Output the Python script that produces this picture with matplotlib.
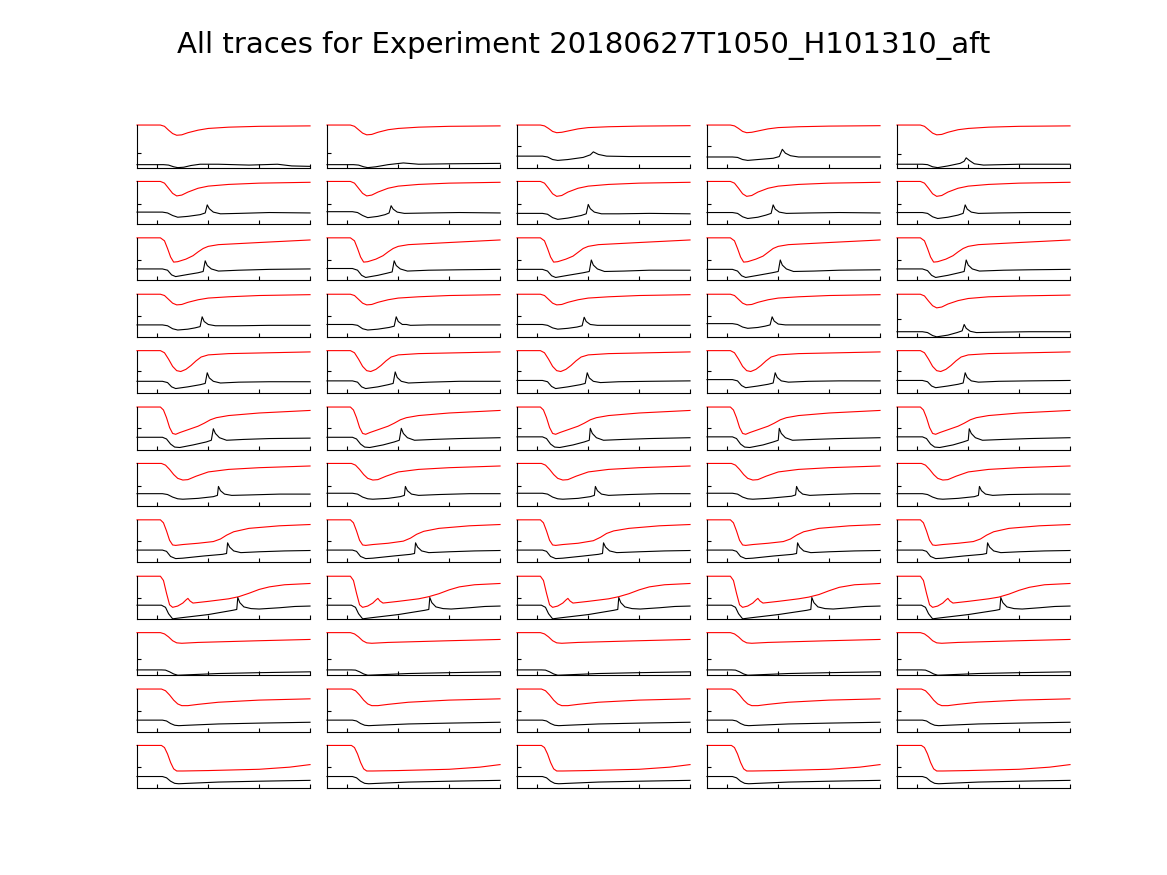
import matplotlib
matplotlib.use("Agg")
import matplotlib.pyplot as plt

title = "All traces for Experiment 20180627T1050_H101310_aft"
x_ticks = [0, 50, 100, 150]

# red trace: x vertices shared along a row, y per column (fraction of panel height)
red_x = [
    [-20, 3, 7, 11, 15, 19, 24, 30, 40, 50, 70, 100, 150],
    [-20, 3, 7, 11, 15, 19, 24, 30, 40, 50, 70, 100, 150],
    [-20, 3, 7, 10, 13, 16, 20, 28, 35, 40, 45, 50, 60, 100, 150],
    [-20, 3, 7, 11, 15, 19, 24, 30, 40, 50, 70, 100, 150],
    [-20, 3, 7, 11, 15, 19, 23, 28, 33, 38, 43, 50, 70, 110, 150],
    [-20, 3, 6, 9, 12, 15, 18, 22, 28, 34, 40, 46, 52, 58, 70, 100, 150],
    [-20, 4, 8, 12, 16, 20, 25, 30, 38, 50, 70, 100, 150],
    [-20, 3, 6, 9, 12, 15, 18, 25, 40, 55, 62, 68, 75, 90, 120, 150],
    [-20, 3, 6, 9, 12, 15, 20, 25, 28, 30, 32, 35, 50, 70, 80, 90, 100, 110, 125, 150],
    [-20, 3, 7, 11, 15, 19, 24, 40, 70, 100, 150],
    [-20, 4, 8, 12, 16, 20, 24, 30, 40, 60, 100, 150],
    [-20, 4, 7, 10, 13, 16, 19, 25, 50, 100, 130, 150],
]
red_y = [
    [[1, 1, .97, .88, .80, .76, .77, .82, .88, .92, .95, .97, .98],
     [1, 1, .97, .89, .81, .77, .78, .83, .89, .92, .95, .97, .98],
     [1, 1, .98, .92, .85, .82, .83, .86, .91, .94, .96, .975, .985],
     [1, 1, .98, .92, .85, .82, .83, .86, .91, .94, .96, .975, .985],
     [1, 1, .97, .89, .81, .77, .78, .83, .89, .92, .95, .97, .98]],
    [[1, 1, .96, .84, .72, .66, .68, .75, .84, .89, .93, .96, .98],
     [1, 1, .96, .84, .72, .66, .68, .75, .84, .89, .93, .96, .98],
     [1, 1, .96, .84, .71, .65, .67, .75, .84, .89, .93, .96, .98],
     [1, 1, .96, .84, .71, .65, .67, .75, .84, .89, .93, .96, .98],
     [1, 1, .96, .84, .71, .65, .67, .75, .84, .89, .93, .96, .98]],
    [[1, 1, .93, .75, .55, .43, .44, .50, .58, .67, .75, .80, .84, .89, .95],
     [1, 1, .93, .75, .55, .43, .44, .50, .58, .67, .75, .80, .84, .89, .95],
     [1, 1, .93, .75, .55, .43, .44, .50, .57, .66, .75, .80, .84, .89, .95],
     [1, 1, .93, .75, .55, .43, .44, .50, .57, .66, .75, .80, .84, .89, .95],
     [1, 1, .93, .75, .55, .43, .44, .50, .58, .67, .75, .80, .84, .89, .95]],
    [[1, 1, .97, .88, .79, .75, .76, .81, .87, .91, .94, .97, .99],
     [1, 1, .97, .88, .79, .75, .76, .81, .87, .91, .94, .97, .99],
     [1, 1, .97, .88, .79, .75, .76, .81, .87, .91, .94, .97, .99],
     [1, 1, .97, .88, .79, .75, .76, .81, .87, .91, .94, .97, .99],
     [1, 1, .96, .84, .73, .68, .70, .77, .85, .90, .94, .96, .98]],
    [[1, 1, .95, .80, .63, .53, .51, .56, .65, .76, .85, .90, .93, .95, .97],
     [1, 1, .95, .80, .63, .53, .51, .56, .65, .76, .85, .90, .93, .95, .97],
     [1, 1, .95, .80, .63, .53, .51, .56, .65, .76, .85, .90, .93, .95, .97],
     [1, 1, .95, .80, .63, .53, .51, .56, .65, .76, .85, .90, .93, .95, .97],
     [1, 1, .95, .80, .63, .53, .51, .56, .65, .76, .85, .90, .93, .95, .97]],
    [[1, 1, .93, .75, .52, .38, .36, .40, .45, .50, .55, .62, .70, .75, .80, .86, .92],
     [1, 1, .93, .75, .52, .38, .36, .40, .45, .50, .55, .62, .70, .75, .80, .86, .92],
     [1, 1, .93, .75, .52, .38, .36, .40, .45, .50, .55, .62, .70, .75, .80, .86, .92],
     [1, 1, .93, .75, .52, .38, .36, .40, .45, .50, .55, .62, .70, .75, .80, .86, .92],
     [1, 1, .93, .75, .52, .38, .36, .40, .45, .50, .55, .62, .70, .75, .80, .86, .92]],
    [[1, 1, .96, .86, .74, .65, .61, .62, .70, .80, .86, .90, .94],
     [1, 1, .96, .86, .74, .65, .61, .62, .70, .80, .86, .90, .94],
     [1, 1, .96, .86, .74, .65, .61, .62, .70, .80, .86, .90, .94],
     [1, 1, .96, .86, .74, .65, .61, .62, .70, .80, .86, .90, .94],
     [1, 1, .96, .86, .74, .65, .61, .62, .70, .80, .86, .90, .94]],
    [[1, 1, .93, .74, .52, .41, .40, .42, .45, .49, .55, .64, .72, .80, .86, .89],
     [1, 1, .93, .74, .52, .41, .40, .42, .45, .50, .57, .66, .73, .80, .86, .89],
     [1, 1, .93, .74, .52, .41, .40, .42, .45, .51, .59, .68, .74, .80, .86, .89],
     [1, 1, .93, .74, .52, .41, .40, .42, .45, .49, .55, .64, .72, .80, .86, .89],
     [1, 1, .93, .74, .52, .41, .40, .42, .45, .49, .55, .64, .72, .80, .86, .89]],
    [[1, 1, .90, .60, .33, .27, .30, .37, .44, .48, .42, .37, .41, .47, .52, .60, .69, .75, .80, .83],
     [1, 1, .90, .60, .33, .27, .30, .37, .44, .48, .42, .37, .41, .47, .52, .59, .68, .75, .80, .83],
     [1, 1, .90, .60, .33, .27, .30, .37, .44, .48, .42, .37, .41, .47, .52, .59, .68, .75, .80, .83],
     [1, 1, .90, .60, .33, .27, .30, .37, .44, .48, .42, .37, .41, .47, .51, .57, .66, .74, .80, .83],
     [1, 1, .90, .60, .33, .27, .30, .37, .44, .48, .42, .37, .41, .47, .51, .58, .67, .74, .80, .83]],
    [[1, 1, .97, .90, .81, .76, .75, .77, .79, .81, .84],
     [1, 1, .97, .90, .81, .76, .75, .77, .79, .81, .84],
     [1, 1, .97, .90, .81, .76, .75, .77, .79, .81, .84],
     [1, 1, .97, .90, .81, .76, .75, .77, .79, .81, .84],
     [1, 1, .97, .90, .81, .76, .75, .77, .79, .81, .84]],
    [[1, 1, .96, .86, .74, .65, .61, .61, .64, .69, .74, .77],
     [1, 1, .96, .86, .74, .65, .61, .61, .64, .69, .74, .77],
     [1, 1, .96, .86, .74, .65, .61, .61, .64, .69, .74, .77],
     [1, 1, .96, .86, .74, .65, .61, .61, .64, .69, .74, .77],
     [1, 1, .96, .86, .74, .65, .61, .61, .64, .69, .74, .77]],
    [[1, 1, .95, .80, .60, .45, .40, .40, .41, .44, .49, .55],
     [1, 1, .95, .80, .60, .45, .40, .40, .41, .44, .49, .55],
     [1, 1, .95, .80, .60, .45, .40, .40, .41, .44, .49, .55],
     [1, 1, .95, .80, .60, .45, .40, .40, .41, .44, .49, .55],
     [1, 1, .95, .80, .60, .45, .40, .40, .41, .44, .49, .55]],
]

# black trace: x and y per panel
blk_x = [
    [[-20, 6, 11, 16, 20, 26, 33, 42, 60, 90, 105, 118, 132, 150],
     [-20, 6, 11, 16, 20, 28, 40, 55, 70, 100, 150],
     [-20, 5, 10, 15, 20, 30, 45, 52, 55, 60, 68, 90, 150],
     [-20, 5, 10, 15, 20, 30, 45, 51, 54, 57, 62, 70, 90, 150],
     [-20, 5, 10, 15, 20, 30, 42, 46, 48, 51, 56, 65, 100, 150]],
    [[-20, 5, 10, 15, 20, 30, 42, 47, 49, 51, 55, 62, 80, 110, 150],
     [-20, 5, 10, 15, 20, 30, 37, 41, 43, 45, 49, 56, 80, 110, 150],
     [-20, 5, 10, 15, 20, 30, 43, 48, 50, 52, 56, 63, 80, 110, 150],
     [-20, 5, 10, 15, 20, 30, 38, 43, 45, 47, 51, 58, 80, 110, 150],
     [-20, 5, 10, 15, 20, 30, 40, 45, 47, 49, 53, 60, 80, 110, 150]],
    [[-20, 5, 10, 14, 18, 30, 40, 45, 47, 49, 53, 60, 80, 110, 150],
     [-20, 5, 10, 14, 18, 30, 39, 44, 46, 48, 52, 59, 80, 110, 150],
     [-20, 5, 10, 14, 18, 30, 45, 51, 53, 55, 59, 66, 85, 110, 150],
     [-20, 5, 10, 14, 18, 30, 44, 50, 52, 54, 58, 65, 85, 110, 150],
     [-20, 5, 10, 14, 18, 30, 41, 46, 48, 50, 54, 61, 85, 110, 150]],
    [[-20, 5, 10, 15, 20, 30, 37, 42, 44, 46, 50, 57, 80, 110, 150],
     [-20, 5, 10, 15, 20, 30, 41, 46, 48, 50, 54, 58, 62, 80, 110, 150],
     [-20, 5, 10, 15, 20, 30, 39, 44, 46, 48, 52, 59, 80, 110, 150],
     [-20, 5, 10, 15, 20, 30, 37, 42, 44, 46, 50, 57, 80, 110, 150],
     [-20, 5, 10, 15, 19, 30, 39, 44, 46, 48, 52, 58, 80, 110, 150]],
    [[-20, 5, 10, 14, 18, 30, 42, 47, 49, 51, 55, 62, 80, 110, 150],
     [-20, 5, 10, 14, 18, 30, 40, 45, 47, 49, 53, 60, 80, 110, 150],
     [-20, 5, 10, 14, 18, 30, 42, 47, 49, 51, 55, 62, 80, 110, 150],
     [-20, 5, 10, 14, 18, 30, 40, 45, 47, 49, 53, 60, 80, 110, 150],
     [-20, 5, 10, 14, 18, 30, 40, 45, 47, 49, 53, 60, 80, 110, 150]],
    [[-20, 5, 9, 13, 17, 22, 35, 48, 53, 55, 57, 61, 68, 85, 110, 150],
     [-20, 5, 9, 13, 17, 22, 35, 46, 51, 53, 55, 59, 66, 85, 110, 150],
     [-20, 5, 9, 13, 17, 22, 35, 46, 51, 52, 54, 58, 65, 85, 110, 150],
     [-20, 5, 9, 13, 17, 22, 35, 45, 50, 51, 53, 57, 64, 85, 110, 150],
     [-20, 5, 9, 13, 17, 22, 35, 45, 50, 51, 53, 57, 64, 85, 110, 150]],
    [[-20, 5, 10, 15, 20, 25, 40, 55, 59, 60, 62, 66, 73, 90, 120, 150],
     [-20, 5, 10, 15, 20, 25, 40, 52, 56, 57, 59, 63, 70, 90, 120, 150],
     [-20, 5, 10, 15, 20, 25, 40, 52, 56, 57, 59, 63, 70, 90, 120, 150],
     [-20, 5, 10, 15, 20, 25, 40, 63, 67, 68, 70, 74, 81, 100, 125, 150],
     [-20, 5, 10, 15, 20, 25, 40, 56, 60, 61, 63, 67, 74, 90, 120, 150]],
    [[-20, 5, 9, 13, 18, 25, 45, 64, 68, 69, 71, 75, 82, 100, 125, 150],
     [-20, 5, 9, 13, 18, 25, 45, 62, 66, 67, 69, 73, 80, 100, 125, 150],
     [-20, 5, 9, 13, 18, 25, 45, 60, 64, 65, 67, 71, 78, 100, 125, 150],
     [-20, 5, 9, 13, 18, 25, 45, 64, 68, 69, 71, 75, 82, 100, 125, 150],
     [-20, 5, 9, 13, 18, 25, 45, 64, 68, 69, 71, 75, 82, 100, 125, 150]],
    [[-20, 4, 8, 11, 15, 25, 50, 74, 78, 79, 81, 85, 92, 100, 120, 135, 150],
     [-20, 4, 8, 11, 15, 25, 50, 76, 80, 81, 83, 87, 94, 102, 120, 135, 150],
     [-20, 4, 8, 11, 15, 25, 50, 75, 79, 80, 82, 86, 93, 101, 120, 135, 150],
     [-20, 4, 8, 11, 15, 25, 50, 78, 82, 83, 85, 89, 96, 104, 120, 135, 150],
     [-20, 4, 8, 11, 15, 25, 50, 77, 81, 82, 84, 88, 95, 103, 120, 135, 150]],
    [[-20, 4, 8, 12, 16, 20, 30, 60, 100, 150]] * 5,
    [[-20, 5, 9, 13, 17, 21, 30, 60, 100, 150]] * 5,
    [[-20, 5, 9, 13, 17, 21, 30, 60, 100, 150]] * 5,
]
blk_y = [
    [[.07, .07, .06, .02, .0, .01, .05, .08, .08, .06, .07, .08, .04, .03],
     [.07, .07, .06, .02, 0, .02, .07, .11, .08, .09, .10],
     [.27, .27, .25, .19, .17, .19, .24, .30, .37, .31, .27, .26, .26],
     [.25, .25, .24, .19, .17, .19, .22, .26, .43, .34, .28, .25, .25, .25],
     [.08, .08, .07, .02, 0, .04, .10, .15, .23, .17, .09, .06, .08, .08]],
    [[.28, .28, .26, .20, .16, .18, .22, .26, .45, .36, .28, .24, .25, .27, .26],
     [.29, .29, .27, .20, .15, .18, .22, .26, .43, .35, .28, .25, .26, .27, .26],
     [.25, .25, .23, .15, .11, .14, .20, .24, .46, .36, .28, .24, .24, .25, .24],
     [.27, .27, .25, .17, .13, .16, .21, .25, .45, .35, .28, .25, .26, .27, .26],
     [.27, .27, .25, .17, .13, .16, .21, .25, .45, .35, .28, .25, .26, .27, .27]],
    [[.27, .27, .24, .13, .09, .14, .18, .21, .46, .35, .27, .22, .24, .26, .27],
     [.28, .28, .24, .12, .07, .12, .17, .20, .46, .35, .27, .22, .24, .25, .26],
     [.26, .26, .22, .11, .07, .12, .18, .21, .48, .36, .27, .21, .22, .24, .24],
     [.26, .26, .22, .11, .07, .12, .18, .21, .48, .36, .27, .21, .22, .24, .25],
     [.27, .27, .23, .12, .07, .12, .18, .21, .48, .36, .27, .22, .24, .25, .26]],
    [[.28, .28, .26, .19, .16, .18, .21, .24, .47, .36, .29, .26, .26, .27, .27],
     [.29, .29, .27, .19, .16, .18, .22, .25, .47, .36, .29, .29, .27, .28, .28, .28],
     [.29, .29, .27, .21, .18, .20, .23, .26, .46, .36, .29, .27, .27, .27, .27],
     [.31, .31, .29, .23, .20, .22, .25, .28, .47, .37, .30, .28, .28, .28, .28],
     [.12, .12, .10, .03, 0, .04, .10, .14, .29, .20, .13, .10, .11, .12, .12]],
    [[.28, .28, .25, .15, .11, .15, .20, .23, .48, .36, .28, .24, .26, .27, .27],
     [.29, .29, .26, .15, .11, .15, .20, .23, .50, .37, .28, .24, .26, .28, .28],
     [.30, .30, .27, .16, .11, .15, .20, .23, .48, .36, .28, .25, .27, .28, .29],
     [.32, .32, .29, .18, .13, .17, .21, .24, .48, .37, .29, .26, .28, .29, .29],
     [.30, .30, .27, .17, .13, .17, .21, .24, .48, .37, .29, .26, .28, .29, .30]],
    [[.29, .29, .25, .13, .06, .05, .11, .18, .22, .49, .38, .28, .22, .24, .26, .27],
     [.29, .29, .25, .13, .06, .05, .11, .18, .22, .50, .38, .28, .22, .24, .26, .28],
     [.30, .30, .26, .13, .06, .05, .11, .18, .22, .50, .38, .28, .22, .24, .26, .28],
     [.30, .30, .26, .13, .06, .05, .11, .18, .22, .50, .38, .28, .22, .24, .26, .28],
     [.30, .30, .26, .13, .06, .05, .11, .18, .22, .49, .38, .28, .22, .24, .26, .28]],
    [[.29, .29, .27, .21, .17, .16, .18, .22, .25, .46, .36, .28, .25, .26, .28, .28],
     [.30, .30, .28, .21, .17, .16, .18, .22, .25, .46, .36, .28, .25, .27, .29, .29],
     [.30, .30, .28, .21, .17, .16, .18, .22, .25, .46, .36, .28, .25, .27, .29, .29],
     [.30, .30, .28, .21, .17, .16, .18, .23, .26, .46, .36, .28, .25, .27, .29, .29],
     [.29, .29, .27, .21, .17, .16, .18, .22, .25, .46, .36, .28, .25, .27, .28, .28]],
    [[.29, .29, .26, .14, .09, .10, .15, .19, .21, .46, .36, .27, .23, .25, .27, .28],
     [.29, .29, .26, .14, .09, .10, .15, .19, .21, .46, .36, .27, .23, .25, .27, .28],
     [.29, .29, .26, .14, .09, .10, .15, .19, .21, .46, .36, .27, .23, .25, .27, .28],
     [.29, .29, .26, .14, .09, .10, .15, .19, .21, .46, .36, .27, .23, .25, .27, .28],
     [.29, .29, .26, .14, .09, .10, .15, .19, .21, .46, .36, .27, .23, .25, .27, .28]],
    [[.32, .32, .27, .12, 0, .03, .10, .20, .22, .50, .38, .28, .24, .23, .26, .29, .30],
     [.32, .32, .27, .12, 0, .03, .10, .20, .22, .50, .38, .28, .24, .23, .26, .29, .30],
     [.32, .32, .27, .12, 0, .03, .10, .20, .22, .50, .38, .28, .24, .23, .26, .29, .30],
     [.32, .32, .27, .12, 0, .03, .10, .20, .22, .50, .38, .28, .24, .23, .26, .29, .30],
     [.32, .32, .27, .12, 0, .03, .10, .20, .22, .50, .38, .28, .24, .23, .26, .29, .30]],
    [[.125, .125, .12, .08, .03, 0, .01, .04, .06, .08]] * 5,
    [[.27, .27, .25, .19, .15, .14, .15, .18, .20, .22]] * 5,
    [[.27, .27, .24, .16, .11, .10, .11, .14, .16, .18]] * 5,
]

y_ticks = [
    [.35, .35, .50, .50, .32],
    [.48] * 5,
    [.49] * 5,
    [.50, .50, .50, .50, .42],
    [.52] * 5,
    [.50] * 5,
    [.48] * 5,
    [.50] * 5,
    [.50] * 5,
    [.37] * 5,
    [.48] * 5,
    [.49] * 5,
]

fig, axes = plt.subplots(12, 5, figsize=(11.67, 8.75), dpi=100)
fig.subplots_adjust(left=0.1174, right=0.9169, top=0.8571, bottom=0.0994,
                    wspace=0.098, hspace=0.324)

for r in range(12):
    for c in range(5):
        ax = axes[r, c]
        ax.plot(red_x[r], red_y[r][c], color="#ff0000", lw=0.8, clip_on=False)
        ax.plot(blk_x[r][c], blk_y[r][c], color="black", lw=0.8, clip_on=False)
        ax.set_xlim(-20, 150)
        ax.set_ylim(0, 1)
        ax.set_xticks(x_ticks)
        ax.set_yticks([y_ticks[r][c]])
        ax.set_xticklabels([])
        ax.set_yticklabels([])
        ax.tick_params(direction="in", length=3, width=0.8)
        ax.spines["top"].set_visible(False)
        ax.spines["right"].set_visible(False)
        ax.spines["left"].set_linewidth(0.8)
        ax.spines["bottom"].set_linewidth(0.8)

fig.suptitle(title, fontsize=21, y=0.965)

plt.savefig("out.png")
